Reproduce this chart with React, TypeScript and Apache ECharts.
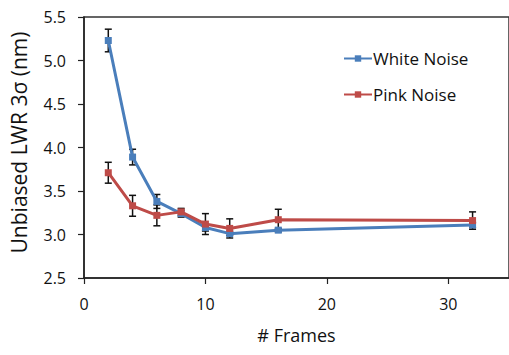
import React, { useEffect, useRef } from "react";
import * as echarts from "echarts";

const frames = [2, 4, 6, 8, 10, 12, 16, 32];
const whiteNoise = [5.23, 3.89, 3.38, 3.24, 3.08, 3.01, 3.05, 3.11];
const pinkNoise = [3.71, 3.33, 3.22, 3.26, 3.12, 3.07, 3.17, 3.16];
const whiteErr = [0.13, 0.09, 0.08, 0.04, 0.04, 0.02, 0.02, 0.03];
const pinkErr = [0.12, 0.12, 0.12, 0.04, 0.12, 0.11, 0.12, 0.1];
const xTicks = [0, 10, 20, 30];
const yTicks = [2.5, 3.0, 3.5, 4.0, 4.5, 5.0, 5.5];

const BLUE = "#4a7ebb";
const RED = "#be4b48";
const FONT = "Open Sans";

function errorData(vals: number[], errs: number[]) {
  return frames.map((f, i) => [f, vals[i] - errs[i], vals[i] + errs[i]]);
}

function renderError(params: any, api: any) {
  const x = api.value(0);
  const lo = api.coord([x, api.value(1)]);
  const hi = api.coord([x, api.value(2)]);
  const cw = 3.5;
  const style = { stroke: "#111", lineWidth: 1.5 };
  return {
    type: "group",
    children: [
      { type: "line", shape: { x1: hi[0], y1: hi[1], x2: lo[0], y2: lo[1] }, style },
      { type: "line", shape: { x1: hi[0] - cw, y1: hi[1], x2: hi[0] + cw, y2: hi[1] }, style },
      { type: "line", shape: { x1: lo[0] - cw, y1: lo[1], x2: lo[0] + cw, y2: lo[1] }, style },
    ],
  };
}

export default function App() {
  const ref = useRef<HTMLDivElement>(null);
  useEffect(() => {
    document.body.style.margin = "0";
    const chart = echarts.init(ref.current!, null, { renderer: "svg" });
    chart.setOption({
      animation: false,
      backgroundColor: "#ffffff",
      grid: {
        left: 82,
        top: 17,
        right: -5,
        bottom: 77,
        show: true,
        borderColor: "#333",
        borderWidth: 1.5,
      },
      legend: {
        data: ["White Noise", "Pink Noise"],
        orient: "vertical",
        left: 338,
        top: 43,
        itemWidth: 28,
        itemHeight: 8,
        itemGap: 15,
        textStyle: { fontFamily: FONT, fontSize: 17, color: "#111", lineHeight: 21, padding: [0, 0, 0, -4] },
      },
      xAxis: {
        type: "value",
        min: 0,
        max: 35,
        interval: 10,
        name: "# Frames",
        nameLocation: "middle",
        nameGap: 48,
        nameTextStyle: { fontFamily: FONT, fontSize: 18, color: "#111" },
        axisLine: { lineStyle: { color: "#222", width: 1.5 } },
        axisTick: { show: true, length: 6, lineStyle: { color: "#222", width: 1.2 } },
        axisLabel: {
          fontFamily: FONT,
          fontSize: 16,
          color: "#111",
          margin: 18,
          showMaxLabel: false,
          formatter: (v: number) => (xTicks.includes(v) ? String(v) : ""),
        },
        splitLine: { show: false },
      },
      yAxis: {
        type: "value",
        min: 2.5,
        max: 5.5,
        interval: 0.5,
        name: "Unbiased LWR 3σ (nm)",
        nameLocation: "middle",
        nameGap: 55,
        nameTextStyle: { fontFamily: FONT, fontSize: 21, color: "#111", padding: [0, 0, 0, 10] },
        axisLine: { show: true, lineStyle: { color: "#222", width: 1.5 } },
        axisTick: { show: true, length: 6, lineStyle: { color: "#222", width: 1.2 } },
        axisLabel: {
          fontFamily: FONT,
          fontSize: 16,
          color: "#111",
          margin: 18,
          formatter: (v: number) => {
            const t = yTicks.find((y) => Math.abs(y - v) < 1e-6);
            return t === undefined ? "" : t.toFixed(1);
          },
        },
        splitLine: { show: false },
      },
      series: [
        {
          name: "White Noise err",
          type: "custom",
          renderItem: renderError,
          data: errorData(whiteNoise, whiteErr),
          encode: { x: 0, y: [1, 2] },
          z: 1,
          silent: true,
        },
        {
          name: "Pink Noise err",
          type: "custom",
          renderItem: renderError,
          data: errorData(pinkNoise, pinkErr),
          encode: { x: 0, y: [1, 2] },
          z: 1,
          silent: true,
        },
        {
          name: "White Noise",
          type: "line",
          data: frames.map((f, i) => [f, whiteNoise[i]]),
          color: BLUE,
          lineStyle: { width: 3, color: BLUE },
          symbol: "rect",
          symbolSize: 7,
          itemStyle: { color: BLUE },
          z: 3,
        },
        {
          name: "Pink Noise",
          type: "line",
          data: frames.map((f, i) => [f, pinkNoise[i]]),
          color: RED,
          lineStyle: { width: 3, color: RED },
          symbol: "rect",
          symbolSize: 7,
          itemStyle: { color: RED },
          z: 4,
        },
      ],
    });
    return () => chart.dispose();
  }, []);
  return <div ref={ref} style={{ width: 509, height: 355 }} />;
}
